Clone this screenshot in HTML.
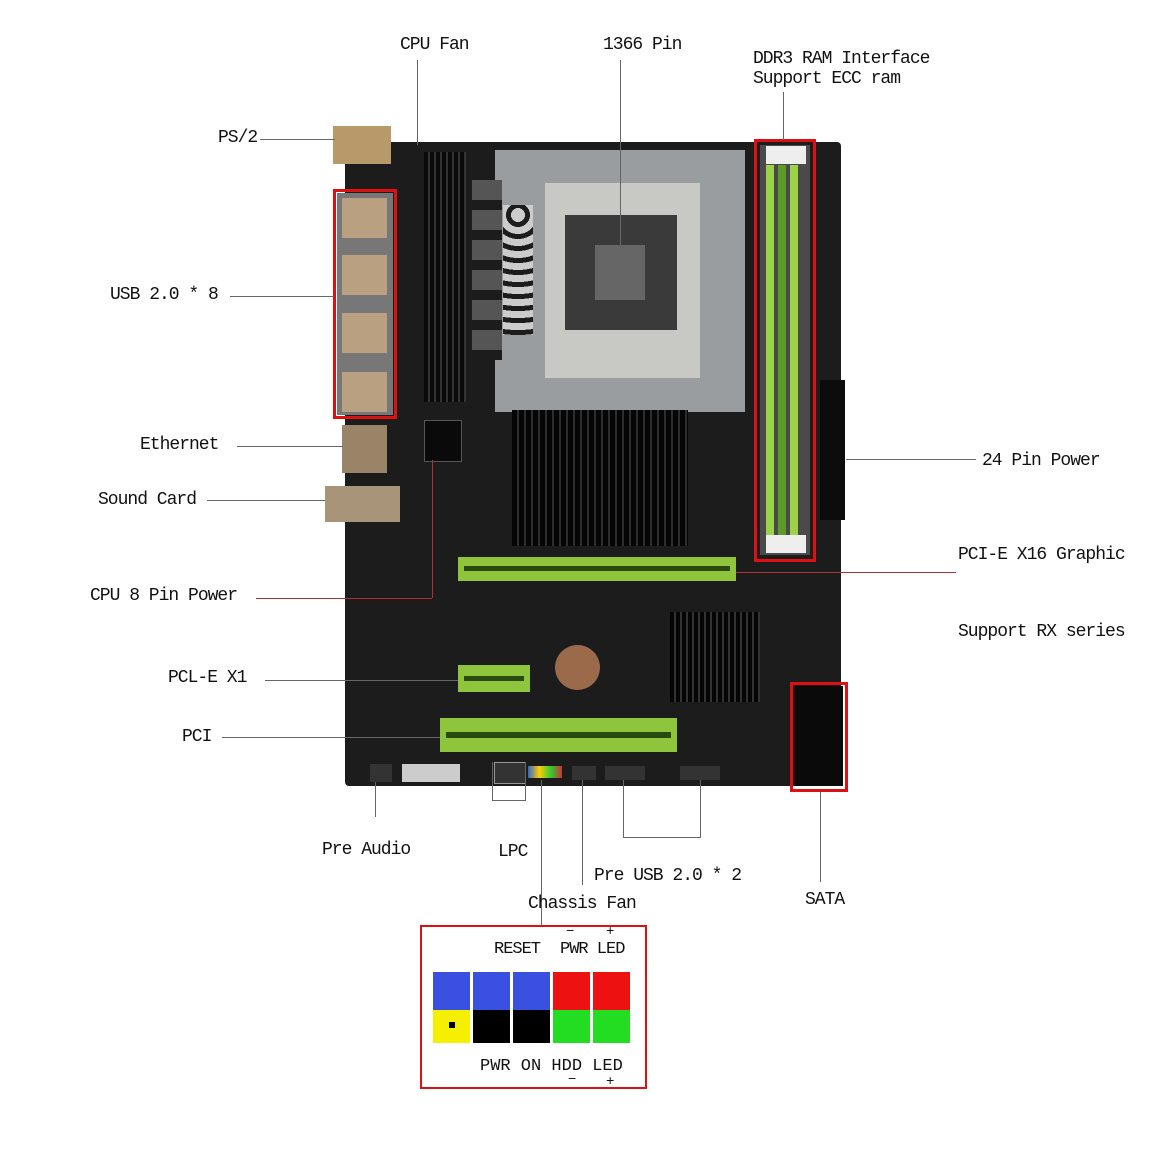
<!DOCTYPE html>
<html><head><meta charset="utf-8"><style>
body{margin:0;width:1160px;height:1160px;background:#fff;position:relative;overflow:hidden;font-family:"Liberation Mono","DejaVu Sans Mono",monospace;}
.a{position:absolute}
.t{position:absolute;font-size:18px;color:#111;white-space:nowrap;letter-spacing:-1px}
.l{position:absolute;background:#666}
.rb{position:absolute;border:3px solid #d11;box-sizing:border-box}
</style></head><body>
<div class="a" style="left:345px;top:142px;width:496px;height:644px;background:#1c1c1c;border-radius:4px"></div>
<div class="a" style="left:333px;top:126px;width:58px;height:38px;background:#b89a6a"></div>
<div class="a" style="left:337px;top:193px;width:56px;height:222px;background:#777"></div>
<div class="a" style="left:342px;top:198px;width:45px;height:40px;background:#b8a080"></div>
<div class="a" style="left:342px;top:255px;width:45px;height:40px;background:#b8a080"></div>
<div class="a" style="left:342px;top:313px;width:45px;height:40px;background:#b8a080"></div>
<div class="a" style="left:342px;top:372px;width:45px;height:40px;background:#b8a080"></div>
<div class="rb" style="left:333px;top:189px;width:64px;height:230px"></div>
<div class="a" style="left:342px;top:425px;width:45px;height:48px;background:#9a8468"></div>
<div class="a" style="left:325px;top:486px;width:75px;height:36px;background:#a89478"></div>
<div class="a" style="left:424px;top:152px;width:42px;height:250px;background:repeating-linear-gradient(90deg,#0a0a0a 0 4px,#333 4px 6px)"></div>
<div class="a" style="left:495px;top:150px;width:250px;height:262px;background:#9a9da0"></div>
<div class="a" style="left:545px;top:183px;width:155px;height:195px;background:#c8c8c4"></div>
<div class="a" style="left:565px;top:215px;width:112px;height:115px;background:#3a3a3a"></div>
<div class="a" style="left:595px;top:245px;width:50px;height:55px;background:#666"></div>
<div class="a" style="left:512px;top:410px;width:176px;height:136px;background:repeating-linear-gradient(90deg,#050505 0 5px,#2d2d2d 5px 7px)"></div>
<div class="a" style="left:670px;top:612px;width:90px;height:90px;background:repeating-linear-gradient(90deg,#050505 0 4px,#333 4px 6px)"></div>
<div class="a" style="left:472px;top:180px;width:30px;height:180px;background:repeating-linear-gradient(180deg,#555 0 20px,#1c1c1c 20px 30px)"></div>
<div class="a" style="left:503px;top:205px;width:30px;height:130px;background:repeating-radial-gradient(circle at 15px 10px,#ccc 0 7px,#1c1c1c 7px 12px)"></div>
<div class="a" style="left:760px;top:145px;width:50px;height:410px;background:#4a4a4a"></div>
<div class="a" style="left:766px;top:165px;width:8px;height:370px;background:#9bd24a"></div>
<div class="a" style="left:778px;top:165px;width:8px;height:370px;background:#5c9a2a"></div>
<div class="a" style="left:790px;top:165px;width:8px;height:370px;background:#9bd24a"></div>
<div class="a" style="left:766px;top:146px;width:40px;height:18px;background:#eee"></div>
<div class="a" style="left:766px;top:535px;width:40px;height:18px;background:#eee"></div>
<div class="rb" style="left:754px;top:139px;width:62px;height:423px"></div>
<div class="a" style="left:820px;top:380px;width:25px;height:140px;background:#0c0c0c"></div>
<div class="a" style="left:458px;top:557px;width:278px;height:24px;background:#8fc53c"></div>
<div class="a" style="left:464px;top:566px;width:266px;height:5px;background:#2a4a10"></div>
<div class="a" style="left:458px;top:665px;width:72px;height:27px;background:#8fc53c"></div>
<div class="a" style="left:464px;top:676px;width:60px;height:5px;background:#2a4a10"></div>
<div class="a" style="left:440px;top:718px;width:237px;height:34px;background:#8fc53c"></div>
<div class="a" style="left:446px;top:732px;width:225px;height:6px;background:#2a4a10"></div>
<div class="a" style="left:555px;top:645px;width:45px;height:45px;border-radius:50%;background:#9a6a4a"></div>
<div class="a" style="left:424px;top:420px;width:36px;height:40px;background:#0a0a0a;border:1px solid #555"></div>
<div class="a" style="left:795px;top:686px;width:48px;height:100px;background:#0a0a0a"></div>
<div class="rb" style="left:790px;top:682px;width:58px;height:110px"></div>
<div class="a" style="left:370px;top:764px;width:22px;height:18px;background:#333"></div>
<div class="a" style="left:402px;top:764px;width:58px;height:18px;background:#ccc"></div>
<div class="a" style="left:494px;top:762px;width:30px;height:20px;background:#333;border:1px solid #999"></div>
<div class="a" style="left:528px;top:766px;width:34px;height:12px;background:linear-gradient(90deg,#36c,#fc0,#3c3,#c33)"></div>
<div class="a" style="left:572px;top:766px;width:24px;height:14px;background:#333"></div>
<div class="a" style="left:605px;top:766px;width:40px;height:14px;background:#333"></div>
<div class="a" style="left:680px;top:766px;width:40px;height:14px;background:#333"></div>
<div class="l" style="left:417px;top:60px;width:1px;height:85px"></div>
<div class="l" style="left:620px;top:60px;width:1px;height:190px"></div>
<div class="l" style="left:783px;top:92px;width:1px;height:48px"></div>
<div class="l" style="left:260px;top:139px;width:75px;height:1px"></div>
<div class="l" style="left:230px;top:296px;width:104px;height:1px"></div>
<div class="l" style="left:237px;top:446px;width:106px;height:1px"></div>
<div class="l" style="left:207px;top:500px;width:118px;height:1px"></div>
<div class="l" style="left:256px;top:598px;width:176px;height:1px;background:#a33"></div>
<div class="l" style="left:432px;top:460px;width:1px;height:138px;background:#a33"></div>
<div class="l" style="left:265px;top:680px;width:193px;height:1px"></div>
<div class="l" style="left:222px;top:737px;width:218px;height:1px"></div>
<div class="l" style="left:846px;top:459px;width:130px;height:1px"></div>
<div class="l" style="left:736px;top:572px;width:220px;height:1px;background:#a33"></div>
<div class="l" style="left:375px;top:782px;width:1px;height:35px"></div>
<div class="l" style="left:492px;top:762px;width:1px;height:38px"></div>
<div class="l" style="left:525px;top:762px;width:1px;height:38px"></div>
<div class="l" style="left:492px;top:800px;width:34px;height:1px"></div>
<div class="l" style="left:541px;top:780px;width:1px;height:145px"></div>
<div class="l" style="left:582px;top:780px;width:1px;height:105px"></div>
<div class="l" style="left:623px;top:780px;width:1px;height:57px"></div>
<div class="l" style="left:700px;top:780px;width:1px;height:57px"></div>
<div class="l" style="left:623px;top:837px;width:78px;height:1px"></div>
<div class="l" style="left:820px;top:792px;width:1px;height:90px"></div>
<div class="t" style="left:400px;top:35px">CPU Fan</div>
<div class="t" style="left:603px;top:35px">1366 Pin</div>
<div class="t" style="left:753px;top:49px">DDR3 RAM Interface</div>
<div class="t" style="left:753px;top:69px">Support ECC ram</div>
<div class="t" style="left:218px;top:128px">PS/2</div>
<div class="t" style="left:110px;top:285px">USB 2.0 * 8</div>
<div class="t" style="left:140px;top:435px">Ethernet</div>
<div class="t" style="left:98px;top:490px">Sound Card</div>
<div class="t" style="left:90px;top:586px">CPU 8 Pin Power</div>
<div class="t" style="left:168px;top:668px">PCL-E X1</div>
<div class="t" style="left:182px;top:727px">PCI</div>
<div class="t" style="left:982px;top:451px">24 Pin Power</div>
<div class="t" style="left:958px;top:545px">PCI-E X16 Graphic</div>
<div class="t" style="left:958px;top:622px">Support RX series</div>
<div class="t" style="left:322px;top:840px">Pre Audio</div>
<div class="t" style="left:498px;top:842px">LPC</div>
<div class="t" style="left:594px;top:866px">Pre USB 2.0 * 2</div>
<div class="t" style="left:528px;top:894px">Chassis Fan</div>
<div class="t" style="left:805px;top:890px">SATA</div>
<div class="rb" style="left:420px;top:925px;width:227px;height:164px;border-width:2px"></div>
<div class="t" style="left:494px;top:940px;font-size:17px">RESET</div>
<div class="t" style="left:560px;top:940px;font-size:17px">PWR LED</div>
<div class="t" style="left:566px;top:924px;font-size:14px">−</div>
<div class="t" style="left:606px;top:924px;font-size:14px">+</div>
<div class="a" style="left:433px;top:972px;width:37px;height:38px;background:#3a50e0"></div>
<div class="a" style="left:473px;top:972px;width:37px;height:38px;background:#3a50e0"></div>
<div class="a" style="left:513px;top:972px;width:37px;height:38px;background:#3a50e0"></div>
<div class="a" style="left:553px;top:972px;width:37px;height:38px;background:#ee1111"></div>
<div class="a" style="left:593px;top:972px;width:37px;height:38px;background:#ee1111"></div>
<div class="a" style="left:433px;top:1010px;width:37px;height:33px;background:#f5f000"></div>
<div class="a" style="left:449px;top:1022px;width:6px;height:6px;background:#000"></div>
<div class="a" style="left:473px;top:1010px;width:37px;height:33px;background:#000"></div>
<div class="a" style="left:513px;top:1010px;width:37px;height:33px;background:#000"></div>
<div class="a" style="left:553px;top:1010px;width:37px;height:33px;background:#22dd22"></div>
<div class="a" style="left:593px;top:1010px;width:37px;height:33px;background:#22dd22"></div>
<div class="t" style="left:480px;top:1057px;font-size:17px;letter-spacing:0">PWR ON HDD LED</div>
<div class="t" style="left:568px;top:1072px;font-size:14px">−</div>
<div class="t" style="left:606px;top:1074px;font-size:14px">+</div>
</body></html>
